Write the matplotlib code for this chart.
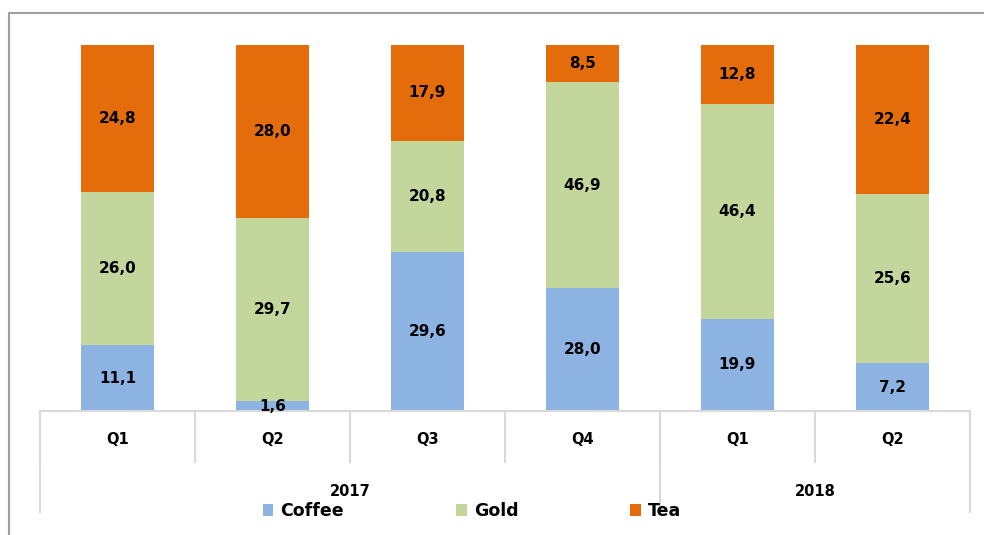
import numpy as np
import matplotlib.pyplot as plt
from matplotlib.patches import Rectangle

quarters = ['Q1', 'Q2', 'Q3', 'Q4', 'Q1', 'Q2']
years = ['2017', '2018']
year_span = [4, 2]  # number of quarters under each year
coffee = [11.1, 1.6, 29.6, 28.0, 19.9, 7.2]
gold = [26.0, 29.7, 20.8, 46.9, 46.4, 25.6]
tea = [24.8, 28.0, 17.9, 8.5, 12.8, 22.4]

names = ['Coffee', 'Gold', 'Tea']
colors = ['#8DB3E2', '#C3D69B', '#E46C0A']

W, H = 984, 535
fig = plt.figure(figsize=(W / 100, H / 100), dpi=100)
plt.rcParams['font.family'] = 'DejaVu Sans'

# outer chart border (left + top visible)
fig.patches.append(Rectangle((9 / W, -0.1), 1.2, 1.1 - 13 / H, transform=fig.transFigure,
                             fill=False, edgecolor='#A0A0A0', lw=1.5))

ax = fig.add_axes([40 / W, 1 - 411 / H, 930 / W, 366 / H])

data = np.array([coffee, gold, tea])
totals = data.sum(axis=0)
share = data / totals * 100
x = np.arange(len(quarters))
bottom = np.zeros(len(quarters))
for i in range(3):
    bars = ax.bar(x, share[i], 0.47, bottom=bottom, color=colors[i], label=names[i])
    for j, b in enumerate(bars):
        ax.text(b.get_x() + b.get_width() / 2, bottom[j] + share[i][j] / 2,
                f'{data[i][j]:.1f}'.replace('.', ','), ha='center', va='center',
                fontsize=11, fontweight='bold', color='black')
    bottom += share[i]

ax.set_xlim(-0.5, len(quarters) - 0.5)
ax.set_ylim(0, 100)
ax.axis('off')

# category axis: baseline, quarter row, year row
tr = ax.get_xaxis_transform()
grey = '#D9D9D9'
ax.plot([-0.5, len(quarters) - 0.5], [0, 0], color=grey, lw=1.5, transform=tr, clip_on=False)
y_q = -51 / 366
y_y = -101 / 366
for k in range(len(quarters) + 1):
    ax.plot([k - 0.5, k - 0.5], [0, y_q], color=grey, lw=1.5, transform=tr, clip_on=False)
for j, q in enumerate(quarters):
    ax.text(j, -29 / 366, q, ha='center', va='center', fontsize=10.5,
            fontweight='bold', transform=tr)
edges = np.concatenate([[0], np.cumsum(year_span)]) - 0.5
for e in edges:
    ax.plot([e, e], [0, y_y], color=grey, lw=1.5, transform=tr, clip_on=False)
for k, yr in enumerate(years):
    ax.text((edges[k] + edges[k + 1]) / 2, -80 / 366, yr, ha='center', va='center',
            fontsize=10.5, fontweight='bold', transform=tr)

leg = fig.legend(loc='center', bbox_to_anchor=(472 / W, 1 - 511 / H), ncol=3, frameon=False,
                 prop={'size': 12.5, 'weight': 'bold'}, handlelength=0.62, handleheight=0.62,
                 handletextpad=0.4, columnspacing=6.45, borderpad=0)

fig.savefig('out.png', dpi=100)
